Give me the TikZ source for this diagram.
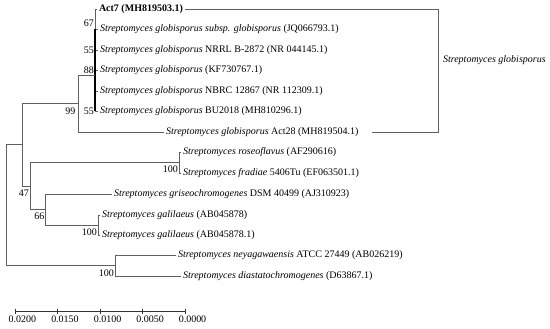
\documentclass[tikz,border=0pt]{standalone}
\usepackage{fontspec}
\setmainfont{Liberation Serif}
\begin{document}
\begin{tikzpicture}[x=1pt,y=-1pt,
  br/.style={draw={rgb,255:red,95;green,95;blue,95}, line width=0.9pt},
  leaf/.style={anchor=west, inner sep=0pt, outer sep=2pt, font=\fontsize{10}{12}\selectfont},
  boot/.style={anchor=east, inner sep=0pt, font=\fontsize{10}{12}\selectfont},
  ticklab/.style={anchor=north, inner sep=0pt, font=\fontsize{10}{12}\selectfont}]
\useasboundingbox (0,0) rectangle (550,329);
% leaves
\node[leaf] (act7) at (97,9) {\textbf{Act7 (MH819503.1)}};
\node[leaf] (g1) at (98,29.5) {\textit{Streptomyces globisporus subsp. globisporus} (JQ066793.1)};
\node[leaf] (g2) at (98,50) {\textit{Streptomyces globisporus} NRRL B-2872 (NR 044145.1)};
\node[leaf] (g3) at (98,70.5) {\textit{Streptomyces globisporus} (KF730767.1)};
\node[leaf] (g4) at (98,91) {\textit{Streptomyces globisporus} NBRC 12867 (NR 112309.1)};
\node[leaf] (g5) at (98,111.5) {\textit{Streptomyces globisporus} BU2018 (MH810296.1)};
\node[leaf] (act28) at (164,132) {\textit{Streptomyces globisporus} Act28 (MH819504.1)};
\node[leaf] (ros) at (181,152.5) {\textit{Streptomyces roseoflavus} (AF290616)};
\node[leaf] (fra) at (181,173) {\textit{Streptomyces fradiae} 5406Tu (EF063501.1)};
\node[leaf] (gri) at (112,194) {\textit{Streptomyces griseochromogenes} DSM 40499 (AJ310923)};
\node[leaf] (gal1) at (100,215) {\textit{Streptomyces galilaeus} (AB045878)};
\node[leaf] (gal2) at (100,235.5) {\textit{Streptomyces galilaeus} (AB045878.1)};
\node[leaf] (ney) at (176,255.5) {\textit{Streptomyces neyagawaensis} ATCC 27449 (AB026219)};
\node[leaf] (dia) at (181,276) {\textit{Streptomyces diastatochromogenes} (D63867.1)};
% internal nodes
\coordinate (nG) at (95,75);
\coordinate (n99) at (78,103.5);
\coordinate (nRF) at (179,162.75);
\coordinate (nGal) at (98,225.25);
\coordinate (n66) at (45,209.6);
\coordinate (n47) at (30,186.2);
\coordinate (nA) at (22,144.8);
\coordinate (nNey) at (115,265.75);
\coordinate (root) at (6,205.3);
% branches
\draw[br] (nG) |- (act7.west);
\draw[br] (nG) |- (g1.west);
\draw[br] (nG) |- (g2.west);
\draw[br] (nG) |- (g3.west);
\draw[br] (nG) |- (g4.west);
\draw[br] (nG) |- (g5.west);
\draw[black, line width=1.3pt] (g1.west -| nG) -- (g5.west -| nG);
\draw[br] (n99) |- (nG);
\draw[br] (n99) |- (act28.west);
\draw[br] (nRF) |- (ros.west);
\draw[br] (nRF) |- (fra.west);
\draw[br] (nGal) |- (gal1.west);
\draw[br] (nGal) |- (gal2.west);
\draw[br] (n66) |- (gri.west);
\draw[br] (n66) |- (nGal);
\draw[br] (n47) |- (nRF);
\draw[br] (n47) |- (n66);
\draw[br] (nA) |- (n99);
\draw[br] (nA) |- (n47);
\draw[br] (nNey) |- (ney.west);
\draw[br] (nNey) |- (dia.west);
\draw[br] (root) |- (nA);
\draw[br] (root) |- (nNey);
% bootstrap values
\node[boot] (b67) at (94,23) {67};
\node[boot] (b55a) at (94,50) {55};
\node[boot] (b88) at (94,70.5) {88};
\node[boot] (b55b) at (94,111.5) {55};
\node[boot] (b99) at (75.5,111.5) {99};
\node[boot] (b100a) at (178,169) {100};
\node[boot] (b47) at (29,193) {47};
\node[boot] (b66) at (44.5,216) {66};
\node[boot] (b100b) at (97,232) {100};
\node[boot] (b100c) at (114,273.5) {100};
% bracket
\coordinate (brTop) at (438,9);
\coordinate (brBot) at (438,132);
\coordinate (brEnd) at (372,132);
\draw[br] (act7.east) -- (brTop) -- (brBot) -- (brEnd);
\node[leaf, outer sep=0pt] (clade) at (443,60) {\textit{Streptomyces globisporus}};
% scale bar
\coordinate (s0) at (15,311);
\coordinate (s4) at (185,311);
\draw[line width=0.8pt, black!80] (s0) -- (s4);
\foreach \i/\x/\t in {0/15/0.0200,1/57.5/0.0150,2/100/0.0100,3/142.5/0.0050,4/185/0.0000}{
  \draw[line width=0.8pt, black!80] (\x,308.5) -- (\x,313.5);
  \node[ticklab] (t\i) at (\x+7.5,316) {\t};
}
\end{tikzpicture}
\end{document}
